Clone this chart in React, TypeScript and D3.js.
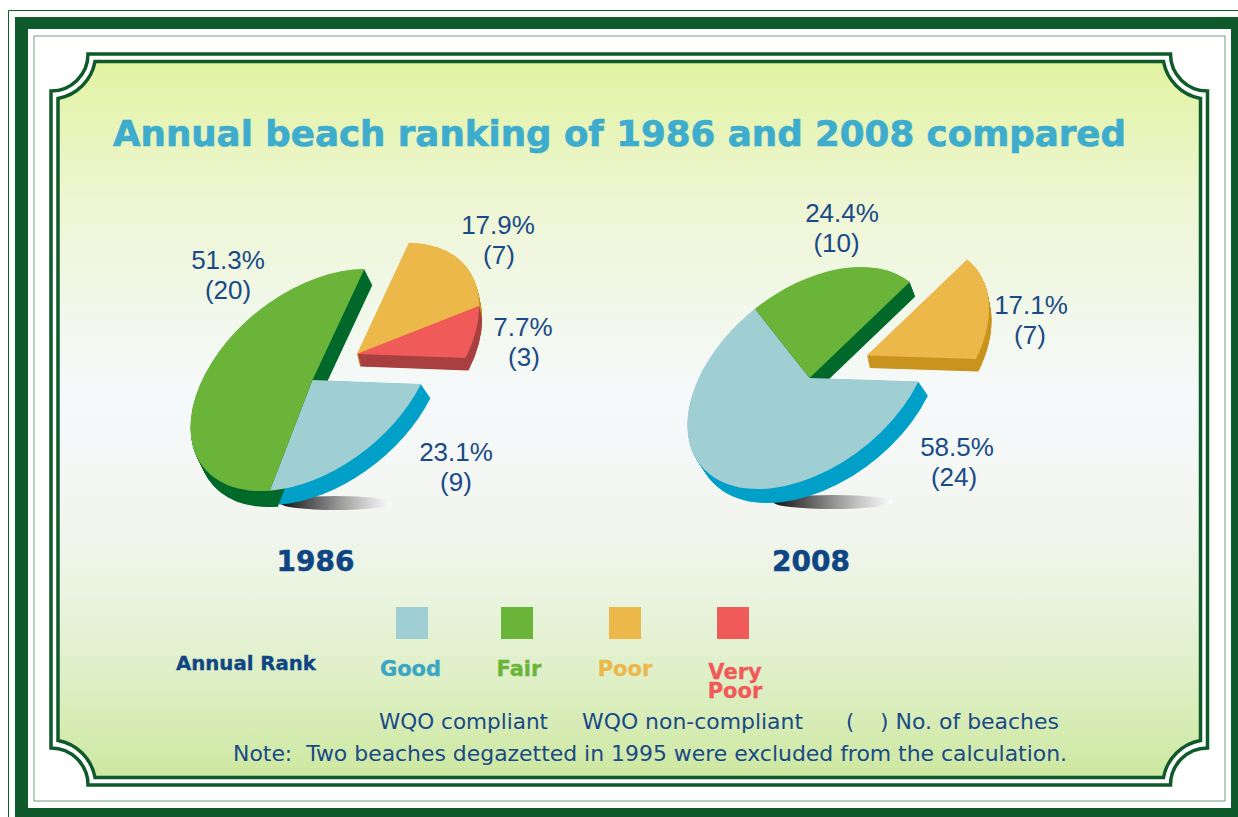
import React from "react";
import * as d3 from "d3";

const categories = ["Good", "Fair", "Poor", "Very Poor"];
const topColors = ["#9fced3", "#6ab539", "#edb84a", "#f05a59"];
const rimColors = ["#00a0c8", "#006a2c", "#c9941f", "#a94040"];

const labels1986 = [
  ["23.1%", "(9)"],
  ["51.3%", "(20)"],
  ["17.9%", "(7)"],
  ["7.7%", "(3)"],
];
const values1986 = [23.1, 51.3, 17.9, 7.7];
const labels2008 = [
  ["58.5%", "(24)"],
  ["24.4%", "(10)"],
  ["17.1%", "(7)"],
];
// swept widths as they are drawn in the picture
const values2008 = [60.2, 22.7, 17.1];

const unit = 100;
const pieGen = d3.pie<number>().sort(null).startAngle(Math.PI / 2).endAngle(Math.PI / 2 + 2 * Math.PI);
const arcGen = d3.arc<d3.PieArcDatum<number>>().innerRadius(0).outerRadius(unit);

type Spec = {
  values: number[];
  cx: number;
  cy: number;
  ax: [number, number];
  wx: [number, number];
  exploded: number[];
  explode: [number, number];
  depths: [number, number][];
  cats: number[];
  shadow: [number, number, number, number];
  year: string;
  yearX: number;
  labels: string[][];
  labelPos: [number, number, number][];
};

const specs: Spec[] = [
  {
    values: values1986,
    cx: 312.5,
    cy: 380,
    ax: [108.5, 4],
    wx: [-56, 111],
    exploded: [2, 3],
    explode: [44.5, -26],
    depths: [
      [9.5, 14],
      [8, 16],
      [3, 12.5],
      [3, 12.5],
    ],
    cats: [0, 1, 2, 3],
    shadow: [336, 503, 56, 7],
    year: "1986",
    yearX: 315.5,
    labels: labels1986,
    labelPos: [
      [456, 461, 456],
      [228, 269, 228],
      [498, 234, 499],
      [523, 336, 524],
    ],
  },
  {
    values: values2008,
    cx: 809.5,
    cy: 378,
    ax: [109, 3.6],
    wx: [-55, 111],
    exploded: [2],
    explode: [57.4, -22.5],
    depths: [
      [9.5, 14],
      [5.5, 14.5],
      [2.5, 12.5],
    ],
    cats: [0, 1, 2],
    shadow: [833, 502, 60, 7],
    year: "2008",
    yearX: 811,
    labels: labels2008,
    labelPos: [
      [957, 456, 954],
      [842, 222, 836.5],
      [1031, 314, 1030],
    ],
  },
];

const textBlue = "#1a4a86";
const sans = "'Liberation Sans', Arial, sans-serif";
const wide = "'DejaVu Sans', Verdana, sans-serif";

function Pie({ s }: { s: Spec }) {
  const arcs = pieGen(s.values);
  const m = (dx: number, dy: number) =>
    `matrix(${s.ax[0] / unit},${s.ax[1] / unit},${s.wx[0] / unit},${s.wx[1] / unit},${s.cx + dx},${s.cy + dy})`;
  const offset = (i: number): [number, number] => (s.exploded.includes(i) ? s.explode : [0, 0]);
  return (
    <g>
      <ellipse cx={s.shadow[0]} cy={s.shadow[1]} rx={s.shadow[2]} ry={s.shadow[3]} fill="url(#shadowGrad)" />
      {arcs.map((a, i) => {
        const [ox, oy] = offset(i);
        const [dx, dy] = s.depths[i];
        const steps = Math.ceil(Math.max(Math.abs(dx), Math.abs(dy)) * 2);
        return d3.range(steps, 0, -1).map((k) => (
          <path
            key={`${i}-${k}`}
            d={arcGen(a) as string}
            transform={m(ox + (dx * k) / steps, oy + (dy * k) / steps)}
            fill={rimColors[s.cats[i]]}
          />
        ));
      })}
      {arcs.map((a, i) => {
        const [ox, oy] = offset(i);
        return <path key={i} d={arcGen(a) as string} transform={m(ox, oy)} fill={topColors[s.cats[i]]} />;
      })}
      {s.labels.map((l, i) => (
        <text key={i} textAnchor="middle" fontFamily={sans} fontSize={26} fill={textBlue}>
          <tspan x={s.labelPos[i][0]} y={s.labelPos[i][1]}>
            {l[0]}
          </tspan>
          <tspan x={s.labelPos[i][2]} y={s.labelPos[i][1] + 30}>
            {l[1]}
          </tspan>
        </text>
      ))}
      <text
        x={s.yearX}
        y={571}
        textAnchor="middle"
        fontFamily={wide}
        fontWeight="bold"
        fontSize={28}
        fill="#0f4583"
        stroke="#0f4583"
        strokeWidth={0.5}
      >
        {s.year}
      </text>
    </g>
  );
}

const plaque = (l: number, r: number, t: number, b: number, c: number, rad: number) =>
  `M${l + c},${t} L${r - c},${t} A${rad},${rad} 0 0 0 ${r},${t + c} L${r},${b - c} A${rad},${rad} 0 0 0 ${r - c},${b} L${l + c},${b} A${rad},${rad} 0 0 0 ${l},${b - c} L${l},${t + c} A${rad},${rad} 0 0 0 ${l + c},${t} Z`;

const legendX = [412, 517, 625, 733];
const legendLabelColors = ["#3aa6c6", "#6ab539", "#edb84a", "#f05a59"];
const noteText = "Note:\u00a0\u00a0Two beaches degazetted in 1995 were excluded from the calculation.";

export default function App() {
  return (
    <svg
      width={1238}
      height={817}
      viewBox="0 0 1238 817"
      style={{ position: "absolute", left: 0, top: 0, display: "block" }}
    >
      <defs>
        <linearGradient id="bg" x1="0" y1="0" x2="0" y2="1">
          <stop offset="0" stopColor="#e2f3a2" />
          <stop offset="0.2" stopColor="#eef6d4" />
          <stop offset="0.47" stopColor="#f5f9fc" />
          <stop offset="0.62" stopColor="#f3f6f0" />
          <stop offset="0.745" stopColor="#eaf4e0" />
          <stop offset="0.865" stopColor="#deefc5" />
          <stop offset="1" stopColor="#cde8a0" />
        </linearGradient>
        <linearGradient id="shadowGrad" x1="0" y1="0" x2="1" y2="0">
          <stop offset="0" stopColor="#111" />
          <stop offset="0.4" stopColor="#777" />
          <stop offset="1" stopColor="#fff" stopOpacity="0.8" />
        </linearGradient>
      </defs>
      <rect width={1238} height={817} fill="#fff" />
      <path d="M8.5,817 V10.5 H1238" fill="none" stroke="#0f5c2c" strokeWidth={1} />
      <path d="M15,817 V17 H1238 V817 Z M28,29 V808 H1231 V29 Z" fill="#0f5a2a" fillRule="evenodd" />
      <rect x={34} y={36} width={1191} height={765} fill="#fff" stroke="#6f9f80" strokeWidth={1} />
      <path d={plaque(51, 1207.5, 54, 785, 37, 37)} fill="#fff" stroke="#0f5a2a" strokeWidth={3.5} />
      <path d={plaque(58, 1200.5, 61.5, 777.5, 37, 46)} fill="url(#bg)" stroke="#0f5a2a" strokeWidth={3.5} />

      <text
        x={113}
        y={146}
        fontFamily={wide}
        fontWeight="bold"
        fontSize={36}
        fill="#3eaccc"
        stroke="#3eaccc"
        strokeWidth={0.7}
        textLength={1013}
        lengthAdjust="spacingAndGlyphs"
      >
        Annual beach ranking of 1986 and 2008 compared
      </text>

      {specs.map((s) => (
        <Pie key={s.year} s={s} />
      ))}

      <text
        x={176}
        y={670}
        fontFamily={wide}
        fontWeight="bold"
        fontSize={19}
        fill="#0f4583"
        stroke="#0f4583"
        strokeWidth={0.3}
        textLength={140}
        lengthAdjust="spacingAndGlyphs"
      >
        Annual Rank
      </text>
      {categories.map((c, i) => (
        <g key={c}>
          <rect x={legendX[i] - 16} y={607} width={32} height={32} fill={topColors[i]} />
          {c === "Very Poor" ? (
            <text
              textAnchor="middle"
              fontFamily={wide}
              fontWeight="bold"
              fontSize={21}
              fill={legendLabelColors[i]}
              stroke={legendLabelColors[i]}
              strokeWidth={0.3}
            >
              <tspan x={735} y={679}>
                Very
              </tspan>
              <tspan x={735} y={698}>
                Poor
              </tspan>
            </text>
          ) : (
            <text
              x={[410.5, 519, 625][i]}
              y={676}
              textAnchor="middle"
              fontFamily={wide}
              fontWeight="bold"
              fontSize={21}
              fill={legendLabelColors[i]}
              stroke={legendLabelColors[i]}
              strokeWidth={0.3}
            >
              {c}
            </text>
          )}
        </g>
      ))}
      <g fontFamily={wide} fontSize={21} fill={textBlue}>
        <text x={379} y={729} textLength={169} lengthAdjust="spacingAndGlyphs">
          WQO compliant
        </text>
        <text x={582} y={729} textLength={221} lengthAdjust="spacingAndGlyphs">
          WQO non-compliant
        </text>
        <text x={846} y={729}>
          (
        </text>
        <text x={880} y={729} textLength={179} lengthAdjust="spacingAndGlyphs">
          ) No. of beaches
        </text>
        <text x={233} y={761} textLength={834} lengthAdjust="spacingAndGlyphs">
          {noteText}
        </text>
      </g>
    </svg>
  );
}
